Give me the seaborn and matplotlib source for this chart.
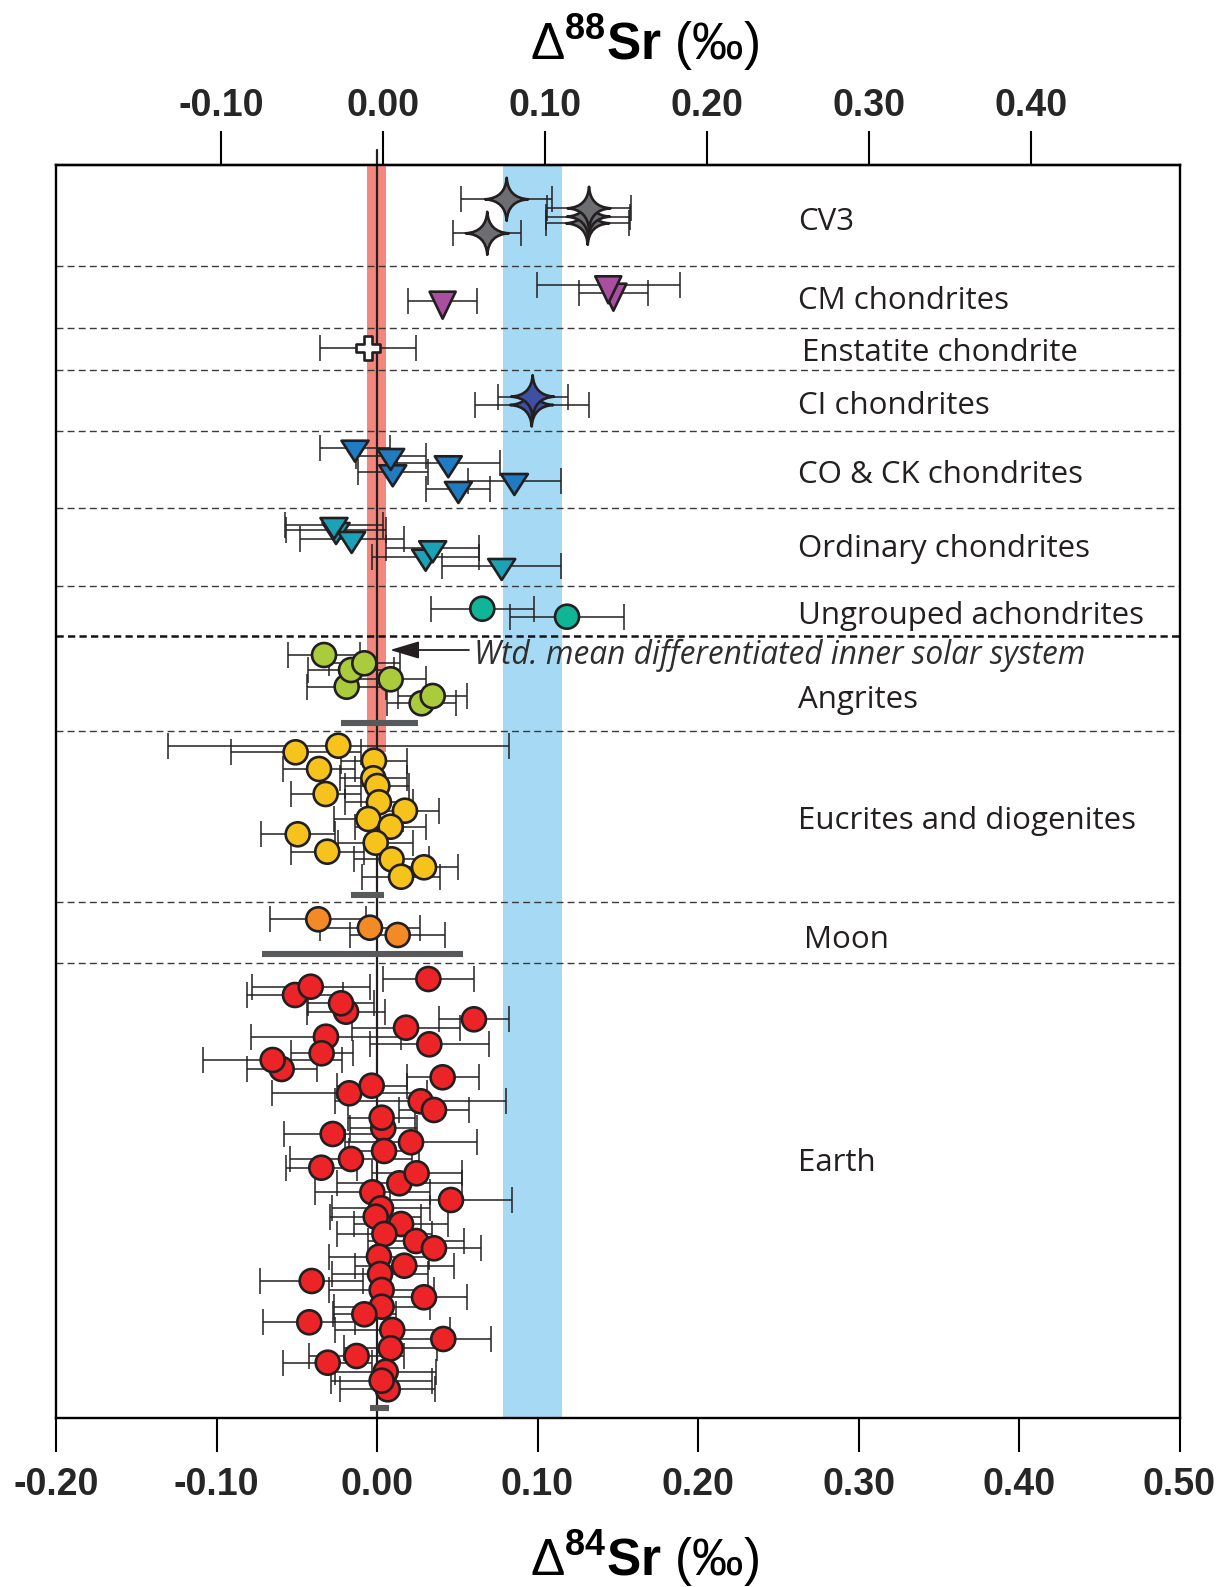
import numpy as np
import pandas as pd
import matplotlib
matplotlib.use("Agg")
import matplotlib.pyplot as plt
from matplotlib.path import Path
from matplotlib.ticker import FormatStrFormatter
import seaborn as sns

# ---------------- data (Δ84Sr ‰, 2SE, vertical stacking row) ----------------
cv3_d84 = [0.0808, 0.0687, 0.1313, 0.1317, 0.1321]
cv3_err = [0.0282, 0.0212, 0.0260, 0.0262, 0.0260]
cv3_row = [199.3, 233.3, 223.3, 216.7, 208.3]

cm_d84 = [0.0409, 0.1473, 0.1441]
cm_err = [0.0216, 0.0214, 0.0447]
cm_row = [300.7, 292.7, 285.3]

ens_d84 = [-0.0054]
ens_err = [0.0300]
ens_row = [348.3]

ci_d84 = [0.0964, 0.0970]
ci_err = [0.0355, 0.0218]
ci_row = [405.0, 396.7]

cock_d84 = [-0.0137, 0.0098, 0.0085, 0.0444, 0.0507, 0.0856]
cock_err = [0.0218, 0.0218, 0.0218, 0.0320, 0.0200, 0.0288]
cock_row = [447.7, 472.3, 456.0, 463.3, 489.0, 481.0]

oc_d84 = [-0.0255, -0.0268, -0.0158, 0.0303, 0.0347, 0.0777]
oc_err = [0.0310, 0.0305, 0.0324, 0.0335, 0.0290, 0.0370]
oc_row = [530.0, 525.0, 539.0, 556.7, 548.3, 566.0]

ua_d84 = [0.0656, 0.1184]
ua_err = [0.0320, 0.0358]
ua_row = [608.7, 616.7]

ang_d84 = [-0.0330, -0.0189, -0.0162, -0.0079, 0.0085, 0.0278, 0.0347]
ang_err = [0.0225, 0.0245, 0.0270, 0.0220, 0.0218, 0.0213, 0.0214]
ang_row = [655.0, 686.7, 670.0, 663.3, 679.3, 703.3, 696.0]

euc_d84 = [-0.0241, -0.0507, -0.0019, -0.0361, -0.0023, 0.0002, -0.0320, 0.0012,
           0.0174, -0.0054, 0.0085, -0.0494, -0.0008, -0.0310, 0.0091, 0.0150, 0.0293]
euc_err = [0.1063, 0.0405, 0.0204, 0.0222, 0.0208, 0.0200, 0.0218, 0.0210,
           0.0214, 0.0214, 0.0220, 0.0230, 0.0235, 0.0228, 0.0235, 0.0245, 0.0214]
euc_row = [745.7, 752.3, 760.7, 769.0, 778.3, 786.0, 794.0, 802.3,
           810.7, 819.0, 826.7, 834.3, 842.7, 851.7, 859.3, 876.7, 867.3]

moon_d84 = [-0.0366, -0.0044, 0.0129]
moon_err = [0.0300, 0.0309, 0.0297]
moon_row = [919.3, 927.7, 935.0]

earth_d84 = [0.0320, -0.0511, -0.0413, -0.0193, -0.0224, 0.0604, 0.0181, -0.0318,
             0.0326, -0.0345, -0.0594, -0.0650, 0.0409, -0.0173, -0.0033, 0.0272,
             0.0355, 0.0039, 0.0029, -0.0276, 0.0212, 0.0044, -0.0162, -0.0347,
             0.0139, 0.0247, -0.0029, 0.0461, 0.0025, -0.0008, 0.0150, 0.0046,
             0.0243, 0.0355, 0.0012, 0.0170, 0.0019, -0.0407, 0.0029, 0.0293,
             0.0029, -0.0079, -0.0422, 0.0095, 0.0413, 0.0085, -0.0127, -0.0307,
             0.0054, 0.0067, 0.0029]
earth_err = [0.0285, 0.0300, 0.0368, 0.0243, 0.0208, 0.0218, 0.0337, 0.0467,
             0.0369, 0.0193, 0.0218, 0.0431, 0.0225, 0.0483, 0.0218, 0.0532,
             0.0220, 0.0208, 0.0208, 0.0303, 0.0413, 0.0218, 0.0380, 0.0220,
             0.0389, 0.0280, 0.0358, 0.0378, 0.0304, 0.0285, 0.0295, 0.0298,
             0.0300, 0.0293, 0.0310, 0.0310, 0.0300, 0.0320, 0.0327, 0.0270,
             0.0300, 0.0197, 0.0287, 0.0357, 0.0295, 0.0290, 0.0297, 0.0276,
             0.0315, 0.0296, 0.0315]
earth_row = [979.0, 995.0, 986.7, 1011.7, 1003.3, 1019.3, 1027.7, 1036.7,
             1044.3, 1053.3, 1069.0, 1060.0, 1077.3, 1093.3, 1085.7, 1101.3,
             1110.0, 1128.3, 1117.7, 1134.0, 1142.3, 1151.0, 1159.0, 1167.7,
             1183.3, 1173.3, 1192.3, 1200.0, 1208.3, 1216.7, 1224.0, 1234.0,
             1241.0, 1248.3, 1256.7, 1265.7, 1274.0, 1281.0, 1290.0, 1297.3,
             1306.7, 1314.3, 1322.3, 1330.0, 1339.0, 1348.3, 1356.0, 1362.7,
             1371.7, 1389.3, 1380.7]

# group means (mean, half-width, row)
mean_center = [0.0015, -0.0059, -0.0092, 0.0016]
mean_half = [0.0239, 0.0105, 0.0626, 0.0060]
mean_row = [723.0, 895.0, 954.0, 1408.0]

# reference bands
wtd_mean_lo, wtd_mean_hi = -0.0062, 0.0056
ci_band_lo, ci_band_hi = 0.0785, 0.1153

group_names = ["CV3", "CM chondrites", "Enstatite chondrite", "CI chondrites",
               "CO & CK chondrites", "Ordinary chondrites", "Ungrouped achondrites",
               "Angrites", "Eucrites and diogenites", "Moon", "Earth"]
bottom_ticks = [-0.20, -0.10, 0.00, 0.10, 0.20, 0.30, 0.40, 0.50]
top_ticks = [-0.10, 0.00, 0.10, 0.20, 0.30, 0.40]

# ---------------- styles / layout ----------------
sns.set_theme(style="white")
plt.rcParams["font.family"] = ["Liberation Sans", "DejaVu Sans"]
plt.rcParams["axes.unicode_minus"] = False
plt.rcParams["mathtext.fontset"] = "custom"
plt.rcParams["mathtext.rm"] = "Liberation Sans"
plt.rcParams["mathtext.bf"] = "Liberation Sans:bold"
plt.rcParams["mathtext.it"] = "Liberation Sans:italic"

ink = "#231F20"

def sparkle(c=0.05):
    tips = [(0, 1), (1, 0), (0, -1), (-1, 0)]
    ctrl = [(c, c), (c, -c), (-c, -c), (-c, c)]
    verts = [tips[0]]
    codes = [Path.MOVETO]
    for k in range(4):
        verts += [ctrl[k], tips[(k + 1) % 4]]
        codes += [Path.CURVE3, Path.CURVE3]
    verts.append(tips[0])
    codes.append(Path.CLOSEPOLY)
    return Path(verts, codes)

def tri_down(w, h):
    v = [(-w / 2, h / 3), (w / 2, h / 3), (0, -2 * h / 3), (-w / 2, h / 3)]
    return Path(v, closed=True)

STAR = sparkle(0.06)
TRI_TALL = tri_down(26, 27)
TRI_FLAT = tri_down(27, 21)

px = 0.72  # points per pixel at dpi 100
groups = [
    ("CV3", cv3_d84, cv3_err, cv3_row, "#6D6E71", STAR, 43 * px),
    ("CM chondrites", cm_d84, cm_err, cm_row, "#AA4FA0", TRI_TALL, 36 * px),
    ("Enstatite chondrite", ens_d84, ens_err, ens_row, "#FFFFFF", "P", 24 * px),
    ("CI chondrites", ci_d84, ci_err, ci_row, "#3F4FA3", STAR, 43 * px),
    ("CO & CK chondrites", cock_d84, cock_err, cock_row, "#1F7BC2", TRI_FLAT, 28 * px),
    ("Ordinary chondrites", oc_d84, oc_err, oc_row, "#1BA2B7", TRI_FLAT, 28 * px),
    ("Ungrouped achondrites", ua_d84, ua_err, ua_row, "#10B598", "o", 24 * px),
    ("Angrites", ang_d84, ang_err, ang_row, "#AACB3B", "o", 24 * px),
    ("Eucrites and diogenites", euc_d84, euc_err, euc_row, "#F5C31B", "o", 24 * px),
    ("Moon", moon_d84, moon_err, moon_row, "#F28B25", "o", 24 * px),
    ("Earth", earth_d84, earth_err, earth_row, "#EC2327", "o", 24 * px),
]

frames = []
for name, x, e, r, *_ in groups:
    frames.append(pd.DataFrame({"group": name, "d84": x, "err": e, "row": r}))
df = pd.concat(frames, ignore_index=True)

palette = {g[0]: g[4] for g in groups}
markers = {g[0]: g[5] for g in groups}
sizes = {g[0]: g[6] ** 2 for g in groups}

fig = plt.figure(figsize=(12.19, 15.87), dpi=100)
ax = fig.add_axes([56 / 1219, 1 - 1418 / 1587, (1179.5 - 56) / 1219, (1418 - 165) / 1587])
ax.set_xlim(-0.2, 0.5)
ax.set_ylim(1418, 165)

# bands and reference line
ax.axvspan(ci_band_lo, ci_band_hi, color="#A6DAF4", lw=0, zorder=0)
ax.fill_betweenx([165, 752], wtd_mean_lo, wtd_mean_hi, color="#F3877E", lw=0, zorder=0.5)
ax.plot([0, 0], [150, 1418], color=ink, lw=1.6, zorder=1, clip_on=False)

# group separators
sep_rows = [265.7, 327.7, 370.0, 431.0, 508.3, 586.0, 730.7, 902.3, 962.7]
for r in sep_rows:
    ax.axhline(r, color="#3A3A3A", lw=1.0, ls=(0, (5, 3)), zorder=1)
ax.axhline(636.0, color="#111111", lw=1.8, ls=(0, (2.9, 1.7)), zorder=1)

# error bars
for name, x, e, r, *_ in groups:
    ax.errorbar(x, r, xerr=e, fmt="none", ecolor=ink, elinewidth=1.1,
                capsize=9.6, capthick=1.1, zorder=2)

# group mean bars
ax.hlines(mean_row, np.array(mean_center) - np.array(mean_half),
          np.array(mean_center) + np.array(mean_half),
          color="#58595B", lw=4.4, zorder=2.5)

# markers
sns.scatterplot(data=df, x="d84", y="row", hue="group", style="group", size="group",
                palette=palette, markers=markers, sizes=sizes, edgecolor=ink,
                linewidth=1.9, legend=False, ax=ax, zorder=3)

# group labels
label_x = [0.2625, 0.2625, 0.2648, 0.2625, 0.2625, 0.2625, 0.2625, 0.2625, 0.2625, 0.2662, 0.2625]
label_cy = [218.5, 297.5, 350, 403, 471.5, 545.6, 612.7, 697, 818, 936.8, 1160]
for name, lx, cy in zip(group_names, label_x, label_cy):
    ax.text(lx, cy + 11.1, name, fontfamily="Open Sans", fontsize=22.5,
            color=ink, va="baseline", ha="left", zorder=4)

ax.annotate("", xy=(0.0081, 650), xytext=(0.0573, 650),
            arrowprops=dict(arrowstyle="-|>,head_length=18,head_width=5.4",
                            mutation_scale=1, lw=1.3, color=ink,
                            shrinkA=0, shrinkB=0), zorder=4)
ax.text(0.0605, 653 + 11.1, "Wtd. mean differentiated inner solar system",
        fontfamily="Open Sans", fontstyle="italic", fontsize=22.8, color="#2E2E2E",
        va="baseline", ha="left", zorder=4)

# axes styling
ax.set_xlabel("")
ax.set_ylabel("")
ax.set_yticks([])
ax.set_xticks(bottom_ticks)
ax.xaxis.set_major_formatter(FormatStrFormatter("%.2f"))
ax.tick_params(axis="x", direction="out", length=24.5, width=1.5, color="black",
               labelsize=27, pad=11, bottom=True, top=False)
for lab in ax.get_xticklabels():
    lab.set_fontweight("bold")
for sp in ax.spines.values():
    sp.set_visible(True)
    sp.set_color("black")
    sp.set_linewidth(1.7)

def to88(x):
    return (np.asarray(x) - 0.0037) / 1.01

def to84(y):
    return 0.0037 + 1.01 * np.asarray(y)

sec = ax.secondary_xaxis("top", functions=(to88, to84))
sec.set_xticks(top_ticks)
sec.xaxis.set_major_formatter(FormatStrFormatter("%.2f"))
sec.tick_params(axis="x", direction="out", length=24.5, width=1.5, color="black",
                labelsize=27, pad=5)
for lab in sec.get_xticklabels():
    lab.set_fontweight("bold")
sec.spines["top"].set_linewidth(1.7)

# axis titles
fig.text(645 / 1219, 1 - 60 / 1587, r"Δ$^{\mathbf{88}}\mathbf{Sr}$ (‰)",
         fontsize=37, ha="center", va="baseline", color="black")
fig.text(645 / 1219, 1 - 1576 / 1587, r"Δ$^{\mathbf{84}}\mathbf{Sr}$ (‰)",
         fontsize=37, ha="center", va="baseline", color="black")

fig.savefig("out.png", dpi=100)
